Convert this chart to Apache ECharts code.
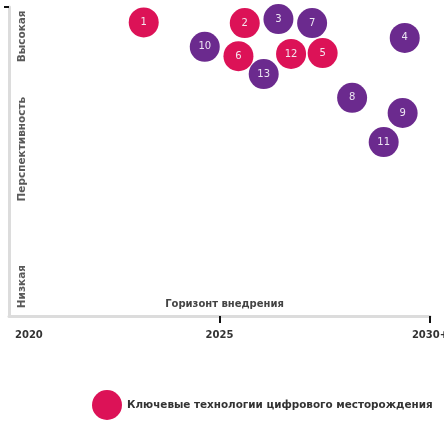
<!DOCTYPE html>
<html><head><meta charset="utf-8">
<script src="https://cdn.jsdelivr.net/npm/echarts@6/dist/echarts.min.js"></script>
<style>html,body{margin:0;padding:0;background:#fff}#c{width:444px;height:425px}</style>
</head><body><div id="c"></div>
<script>
// Key technologies (pink)
const keyIds = ['1','2','6','12','5'];
const keyX = [2023.2, 2025.6, 2025.45, 2026.7, 2027.45];
const keyY = [95.0, 94.8, 84.1, 84.8, 85.1];
// Other technologies (purple)
const otherIds = ['3','7','4','10','13','8','9','11'];
const otherX = [2026.4, 2027.2, 2029.4, 2024.65, 2026.05, 2028.15, 2029.35, 2028.9];
const otherY = [96.1, 94.8, 90.0, 87.1, 78.3, 70.6, 65.7, 56.3];
// Axis labels
const xTickValues = [2020, 2025, 2030];
const xTickLabels = ['2020', '2025', '2030+'];
const yLabelValues = [9.5, 54, 90.5];
const yLabels = ['Низкая', 'Перспективность', 'Высокая'];
const keyName = 'Ключевые технологии цифрового месторождения';
const otherName = 'Прочие технологии';

const font = 'DejaVu Sans';
const chart = echarts.init(document.getElementById('c'));
const mk = (ids, xs, ys) => ids.map((id, i) => ({value: [xs[i], ys[i]], name: id}));
chart.setOption({
  animation: false,
  textStyle: {fontFamily: font},
  grid: {left: 9, right: 14, top: 7, bottom: 109, outerBoundsMode: 'none', containLabel: false},
  legend: {
    data: [keyName], bottom: 0, left: 87, icon: 'circle', itemWidth: 30, itemHeight: 30,
    itemGap: 6,
    textStyle: {fontFamily: font, fontSize: 10.4, color: '#333', fontWeight: 'bold'}
  },
  xAxis: {
    type: 'value', min: 2020, max: 2030, interval: 5,
    name: 'Горизонт внедрения', nameLocation: 'middle', nameGap: -17, nameMoveOverlap: false,
    nameTextStyle: {fontFamily: font, fontSize: 10, color: '#444', fontWeight: 'bold', padding: [0, 0, 0, 10]},
    splitLine: {show: false},
    axisLine: {show: true, lineStyle: {color: '#dcdcdc', width: 3}},
    axisTick: {show: true, customValues: [2025, 2030], length: 7, lineStyle: {color: '#111', width: 2}},
    axisLabel: {
      customValues: xTickValues, margin: 14, alignMinLabel: 'left',
      fontFamily: font, fontSize: 10, fontWeight: 'bold', color: '#333',
      formatter: v => v === xTickValues[0] ? '{p|' + xTickLabels[0] + '}' : xTickLabels[xTickValues.indexOf(v)],
      rich: {p: {padding: [0, 0, 0, 6], fontFamily: font, fontSize: 10, fontWeight: 'bold', color: '#333'}}
    }
  },
  yAxis: {
    type: 'value', min: 0, max: 100,
    splitLine: {show: false},
    axisLine: {show: true, lineStyle: {color: '#dcdcdc', width: 3}},
    axisTick: {show: true, customValues: [100], length: 5, inside: false, lineStyle: {color: '#111', width: 2}},
    axisLabel: {
      customValues: yLabelValues, inside: true, rotate: 90, margin: 8,
      fontFamily: font, fontSize: 10.5, color: '#5a5a5a', fontWeight: 'bold',
      formatter: v => yLabels[yLabelValues.indexOf(v)]
    }
  },
  series: [
    {
      name: keyName, type: 'scatter', symbolSize: 30,
      itemStyle: {color: '#DC1257', opacity: 1},
      label: {show: true, formatter: p => p.name, color: '#f3e6ee', fontSize: 10, fontFamily: font},
      data: mk(keyIds, keyX, keyY)
    },
    {
      name: otherName, type: 'scatter', symbolSize: 30,
      itemStyle: {color: '#6B2A8E', opacity: 1},
      label: {show: true, formatter: p => p.name, color: '#ece4f2', fontSize: 10, fontFamily: font},
      data: mk(otherIds, otherX, otherY)
    }
  ]
});
</script></body></html>
